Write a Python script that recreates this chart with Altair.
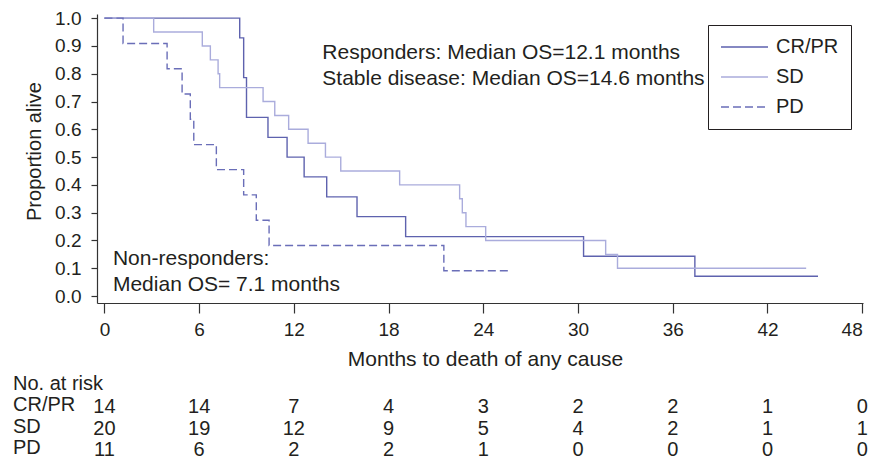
import altair as alt
import pandas as pd

# ---------------- data ----------------
groups = ["CR/PR", "SD", "PD"]

crpr_t = [0, 8.57, 8.82, 9.0, 10.36, 11.57, 12.65, 14.08, 16.0, 19.08, 30.35, 37.4, 45.2]
crpr_s = [1.0, 0.929, 0.786, 0.643, 0.571, 0.5, 0.429, 0.357, 0.286, 0.214, 0.143, 0.071, 0.071]

sd_t = [0, 3.12, 6.2, 6.71, 7.2, 7.3, 10.05, 10.79, 11.67, 12.9, 14.0, 14.97, 18.7, 22.5, 22.67, 22.9, 24.15, 31.75, 32.5, 44.45]
sd_s = [1.0, 0.95, 0.90, 0.85, 0.80, 0.75, 0.70, 0.65, 0.60, 0.55, 0.50, 0.45, 0.40, 0.35, 0.30, 0.25, 0.20, 0.15, 0.10, 0.10]

pd_t = [0, 1.18, 3.97, 4.92, 5.44, 5.66, 7.09, 8.82, 9.62, 10.43, 21.5, 25.56]
pd_s = [1.0, 0.909, 0.818, 0.727, 0.636, 0.545, 0.455, 0.364, 0.273, 0.182, 0.091, 0.091]

risk_times = [0, 6, 12, 18, 24, 30, 36, 42, 48]
risk_crpr = [14, 14, 7, 4, 3, 2, 2, 1, 0]
risk_sd = [20, 19, 12, 9, 5, 4, 2, 1, 1]
risk_pd = [11, 6, 2, 2, 1, 0, 0, 0, 0]

x_ticks = [0, 6, 12, 18, 24, 30, 36, 42, 48]
y_ticks = [0.0, 0.1, 0.2, 0.3, 0.4, 0.5, 0.6, 0.7, 0.8, 0.9, 1.0]

annot_text = ["Responders: Median OS=12.1 months",
              "Stable disease: Median OS=14.6 months",
              "Non-responders:",
              "Median OS= 7.1 months"]
annot_x = [13.8, 13.8, 0.54, 0.54]
annot_y = [0.852, 0.760, 0.112, 0.019]

risk_header = "No. at risk"

# ---------------- style / layout ----------------
FONT = "Liberation Sans"
TXT = "#231f20"
colors = ["#5e62ae", "#aaacdc", "#6a6eb8"]
dashes = [[1, 0], [1, 0], [8, 4]]
X_DOM = [-0.47, 48.05]
Y_DOM = [-0.025, 1.015]
W, H = 766, 289
ROW_LABEL_X = -5.79          # months (left of axis) for the risk-table row labels
ROW_RANGE = [377, 441]       # pixel band for the risk-table rows

# ---------------- tables ----------------
rows = []
for g, ts, ss in zip(groups, [crpr_t, sd_t, pd_t], [crpr_s, sd_s, pd_s]):
    for t, s in zip(ts, ss):
        rows.append({"group": g, "t": t, "s": s})
curves = pd.DataFrame(rows)

annots = pd.DataFrame({"text": annot_text, "x": annot_x, "y": annot_y})

risk_rows = []
for g, vals in zip(groups, [risk_crpr, risk_sd, risk_pd]):
    for t, n in zip(risk_times, vals):
        risk_rows.append({"row": g, "t": t, "n": str(n)})
risk = pd.DataFrame(risk_rows)

row_domain = [risk_header] + groups
labels = pd.DataFrame({"row": row_domain, "x": [ROW_LABEL_X] * 4})

xscale = alt.Scale(domain=X_DOM, nice=False, zero=False)
yscale = alt.Scale(domain=Y_DOM, nice=False, zero=False)
rowscale = alt.Scale(type="point", domain=row_domain, range=ROW_RANGE, padding=0)

xaxis = alt.Axis(values=x_ticks, title="Months to death of any cause", domain=True,
                 tickSize=10, labelPadding=7, titleBaseline="alphabetic",
                 titleY=62, titleX=388, titleFontSize=21)

legend = alt.Legend(title=None, orient="none", legendX=611, legendY=11,
                    strokeColor="#231f20", padding=12, symbolType="stroke",
                    symbolSize=2209, symbolStrokeWidth=1.4, labelOffset=7,
                    labelFontSize=20, labelFont=FONT, labelColor=TXT,
                    rowPadding=10, clipHeight=20)

lines = alt.Chart(curves).mark_line(interpolate="step-after", strokeWidth=1.4).encode(
    x=alt.X("t:Q", scale=xscale, axis=xaxis, title="Months to death of any cause"),
    y=alt.Y("s:Q", scale=yscale,
            axis=alt.Axis(values=y_ticks, format=".1f", title="Proportion alive", domain=True,
                          tickSize=6, labelPadding=10, titleBaseline="alphabetic",
                          titleX=-57, titleY=137)),
    color=alt.Color("group:N", scale=alt.Scale(domain=groups, range=colors), legend=legend),
    strokeDash=alt.StrokeDash("group:N", scale=alt.Scale(domain=groups, range=dashes), legend=legend),
)

annot = alt.Chart(annots).mark_text(align="left", baseline="alphabetic", fontSize=21,
                                     font=FONT, color=TXT).encode(
    x=alt.X("x:Q", scale=xscale, axis=xaxis, title="Months to death of any cause"),
    y=alt.Y("y:Q", scale=yscale, axis=None),
    text="text:N",
)

risk_text = alt.Chart(risk).mark_text(align="center", baseline="alphabetic", fontSize=20,
                                       font=FONT, color=TXT, dy=1).encode(
    x=alt.X("t:Q", scale=xscale, axis=xaxis, title="Months to death of any cause"),
    y=alt.Y("row:N", scale=rowscale, axis=None),
    text="n:N",
)

row_labels = alt.Chart(labels).mark_text(align="left", baseline="alphabetic", fontSize=20,
                                          font=FONT, color=TXT, dy=-1).encode(
    x=alt.X("x:Q", scale=xscale, axis=xaxis, title="Months to death of any cause"),
    y=alt.Y("row:N", scale=rowscale, axis=None),
    text="row:N",
)

chart = alt.layer(lines, annot, risk_text, row_labels).resolve_scale(
    y="independent"
).properties(
    width=W, height=H, autosize="none",
    padding={"left": 97, "top": 14, "right": 11, "bottom": 159},
).configure_view(stroke=None).configure_axis(
    grid=False, domainColor="#333333", tickColor="#333333", domainWidth=1.2, tickWidth=1.2,
    labelFont=FONT, labelFontSize=19, labelColor=TXT,
    titleFont=FONT, titleFontSize=20, titleColor=TXT, titleFontWeight="normal",
)

chart.save("out.html", embed_options={"renderer": "svg", "actions": False})
